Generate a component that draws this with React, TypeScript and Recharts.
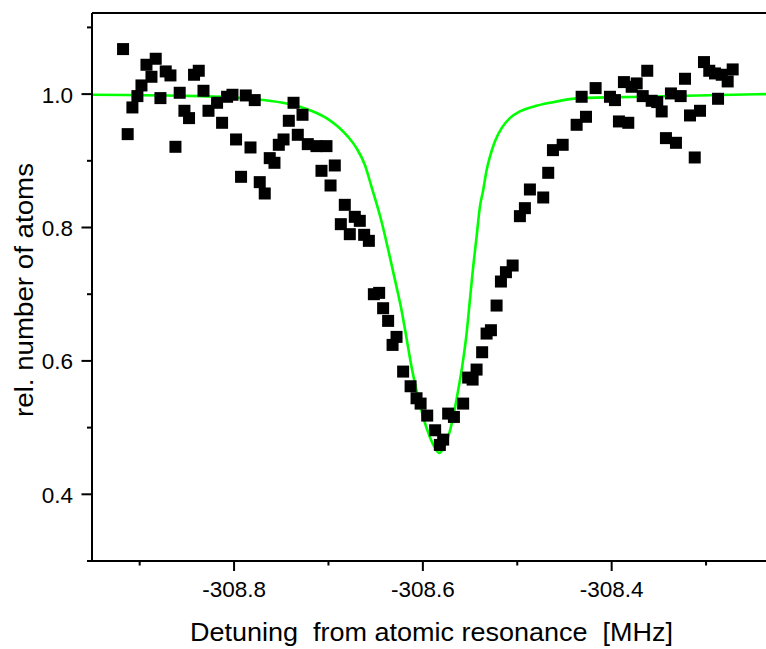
import { ComposedChart, XAxis, YAxis, Scatter, Line, ReferenceLine } from "recharts"

// measured points: detuning [MHz] and relative atom number
const detuning = [
  -308.9176, -308.9127, -308.9077, -308.9024, -308.8981, -308.8928, -308.8875, -308.883, -308.878, -308.8724,
  -308.8674, -308.8621, -308.8576, -308.8526, -308.8477, -308.8424, -308.8374, -308.8324, -308.8271, -308.818,
  -308.8127, -308.8074, -308.8017, -308.7979, -308.7926, -308.7876, -308.7826, -308.7781, -308.7728, -308.7675,
  -308.7622, -308.7572, -308.7526, -308.7476, -308.742, -308.737, -308.7325, -308.7275, -308.7219, -308.7127,
  -308.7074, -308.7021, -308.6978, -308.6933, -308.6869, -308.6827, -308.6774, -308.6721, -308.6668, -308.6622,
  -308.6572, -308.6519, -308.6463, -308.6421, -308.6368, -308.6321, -308.6279, -308.6209, -308.613, -308.6067,
  -308.6024, -308.5954, -308.587, -308.582, -308.5785, -308.5732, -308.5671, -308.5573, -308.552, -308.5473,
  -308.5431, -308.5372, -308.5325, -308.5279, -308.5219, -308.5173, -308.512, -308.5049, -308.4972, -308.4919,
  -308.4866, -308.4725, -308.4672, -308.4622, -308.4519, -308.4371, -308.4318, -308.4272, -308.417, -308.4018,
  -308.3965, -308.3923, -308.387, -308.3824, -308.3788, -308.3735, -308.3671, -308.3623, -308.3576, -308.3517,
  -308.347, -308.3425, -308.3372, -308.3319, -308.3269, -308.3223, -308.317, -308.312, -308.3064, -308.3022,
  -308.2966, -308.2905, -308.2873, -308.2834, -308.2771, -308.2718,
]
const atoms = [
  1.0675, 0.94, 0.98, 0.997, 1.013, 1.044, 1.026, 1.053, 0.994, 1.034,
  1.028, 0.921, 1.002, 0.975, 0.964, 1.029, 1.035, 1.005, 0.975, 0.987,
  0.957, 0.996, 0.999, 0.932, 0.876, 0.998, 0.92, 0.991, 0.868, 0.851,
  0.904, 0.897, 0.924, 0.932, 0.96, 0.987, 0.939, 0.969, 0.925, 0.922,
  0.885, 0.922, 0.863, 0.893, 0.805, 0.834, 0.79, 0.816, 0.81, 0.789,
  0.78, 0.7, 0.702, 0.679, 0.66, 0.624, 0.636, 0.584, 0.562, 0.544,
  0.536, 0.518, 0.496, 0.474, 0.482, 0.521, 0.516, 0.536, 0.575, 0.572,
  0.587, 0.613, 0.641, 0.646, 0.683, 0.719, 0.733, 0.743, 0.817, 0.829,
  0.857, 0.845, 0.882, 0.916, 0.924, 0.954, 0.996, 0.966, 1.009, 0.996,
  0.991, 0.959, 1.018, 0.957, 1.011, 1.016, 0.997, 1.035, 0.99, 0.988,
  0.974, 0.934, 1.001, 0.927, 0.997, 1.023, 0.968, 0.905, 0.975, 1.048,
  1.035, 1.031, 0.993, 1.029, 1.019, 1.037,
]

// fitted curve
const fitDetuning = [
  -308.9505, -308.8364, -308.7834, -308.7484, -308.7304, -308.7163, -308.7021, -308.6898, -308.6792, -308.6703,
  -308.6615, -308.6544, -308.6438, -308.635, -308.6279, -308.6226, -308.6173, -308.612, -308.6067, -308.6032,
  -308.5997, -308.5926, -308.5873, -308.5827, -308.5785, -308.5732, -308.5679, -308.5626, -308.5579, -308.5537,
  -308.5502, -308.5467, -308.5431, -308.5396, -308.5361, -308.5325, -308.529, -308.5237, -308.5166, -308.5078,
  -308.4972, -308.4831, -308.4654, -308.4336, -308.37, -308.2365,
]
const fitAtoms = [
  0.999, 0.997, 0.993, 0.987, 0.981, 0.974, 0.964, 0.951, 0.936, 0.919,
  0.894, 0.861, 0.809, 0.756, 0.711, 0.676, 0.634, 0.591, 0.556, 0.536,
  0.516, 0.486, 0.47, 0.462, 0.469, 0.486, 0.516, 0.556, 0.596, 0.641,
  0.691, 0.741, 0.786, 0.831, 0.856, 0.886, 0.906, 0.929, 0.949, 0.964,
  0.974, 0.981, 0.987, 0.994, 0.996, 1.0,
]

const xMajorTicks = [-308.8, -308.6, -308.4]
const xMinorTicks = [-308.9, -308.7, -308.5, -308.3]
const yMajorTicks = [0.4, 0.6, 0.8, 1.0]
const yMinorTicks = [0.3, 0.5, 0.7, 0.9, 1.1]
const xDomain = [-308.9505, -308.2365]
const yDomain = [0.3, 1.1216]

const FONT = "'Liberation Sans', Arial, Helvetica, sans-serif"

const measured = detuning.map((x, i) => ({ x, y: atoms[i] }))
const fit = fitDetuning.map((x, i) => ({ x, y: fitAtoms[i] }))

function XTick({ x, y, payload }: any) {
  const major = xMajorTicks.includes(payload.value)
  return (
    <g>
      <line x1={x} x2={x} y1={y} y2={y + (major ? 10 : 4.5)} stroke="#000" strokeWidth={2} />
      {major && (
        <text x={x} y={y + 36} textAnchor="middle" fontSize={22.5} fontFamily={FONT} fill="#000">
          {payload.value.toFixed(1)}
        </text>
      )}
    </g>
  )
}

function YTick({ x, y, payload }: any) {
  const major = yMajorTicks.includes(payload.value)
  return (
    <g>
      <line x1={x - (major ? 10.5 : 5)} x2={x} y1={y} y2={y} stroke="#000" strokeWidth={2} />
      {major && (
        <text x={x - 19} y={y + 8.5} textAnchor="end" fontSize={22.5} fontFamily={FONT} fill="#000">
          {payload.value.toFixed(1)}
        </text>
      )}
    </g>
  )
}

function Square({ cx, cy }: any) {
  return <rect x={cx - 6} y={cy - 6} width={12} height={12} fill="#000" />
}

export default function App() {
  return (
    <div style={{ position: "absolute", left: 0, top: 0, width: 766, height: 649, background: "#fff" }}>
      <ComposedChart width={766} height={649} margin={{ top: 13, right: 0, bottom: 0, left: 0 }}>
        <XAxis
          dataKey="x"
          type="number"
          domain={xDomain}
          allowDataOverflow
          ticks={[...xMajorTicks, ...xMinorTicks].sort((a, b) => a - b)}
          tick={(p: any) => <XTick {...p} />}
          tickLine={false}
          tickSize={0}
          tickMargin={0}
          height={88}
          axisLine={{ stroke: "#000", strokeWidth: 2 }}
        />
        <YAxis
          type="number"
          domain={yDomain}
          allowDataOverflow
          ticks={[...yMajorTicks, ...yMinorTicks].sort((a, b) => a - b)}
          tick={(p: any) => <YTick {...p} />}
          tickLine={false}
          tickSize={0}
          tickMargin={0}
          width={92}
          axisLine={{ stroke: "#000", strokeWidth: 2 }}
        />
        <ReferenceLine y={yDomain[1]} stroke="#000" strokeWidth={2} />
        <Scatter data={measured} dataKey="y" shape={Square} isAnimationActive={false} />
        <Line
          data={fit}
          dataKey="y"
          type="monotone"
          stroke="#00ff00"
          strokeWidth={2.6}
          dot={false}
          activeDot={false}
          isAnimationActive={false}
        />
      </ComposedChart>
      <svg width={766} height={649} style={{ position: "absolute", left: 0, top: 0, pointerEvents: "none" }}>
        <text
          x={190}
          y={641}
          fontSize={25.5}
          fontFamily={FONT}
          fill="#000"
          textLength={483}
          lengthAdjust="spacingAndGlyphs"
          style={{ whiteSpace: "pre" }}
        >
          {"Detuning  from atomic resonance  [MHz]"}
        </text>
        <text
          x={33}
          y={290}
          transform="rotate(-90 33 290)"
          textAnchor="middle"
          fontSize={25.5}
          fontFamily={FONT}
          fill="#000"
          textLength={254}
          lengthAdjust="spacingAndGlyphs"
        >
          rel. number of atoms
        </text>
      </svg>
    </div>
  )
}
